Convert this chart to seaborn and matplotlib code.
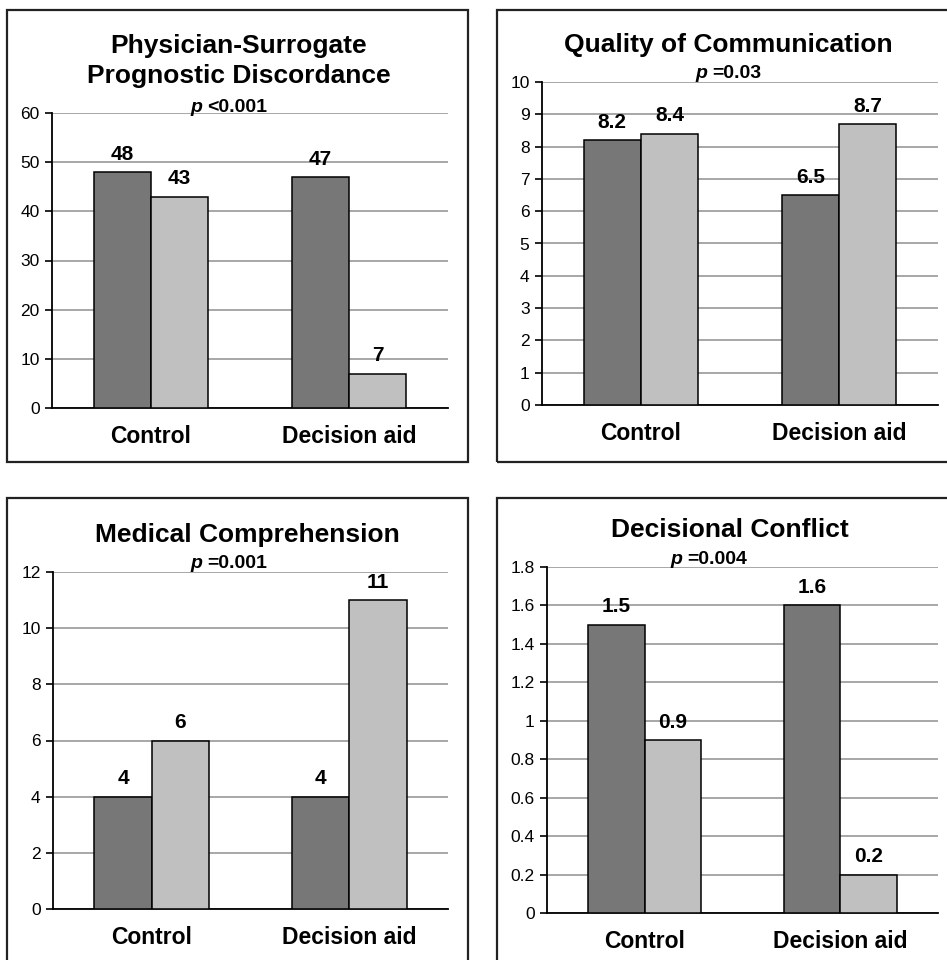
import numpy as np
import pandas as pd
import matplotlib
matplotlib.use('Agg')
import matplotlib.pyplot as plt
from matplotlib.patches import Rectangle
from matplotlib.ticker import FuncFormatter
import seaborn as sns

# %%Data

groups = ['Control', 'Decision aid']
series = ['Series 1', 'Series 2']

discordance_s1 = [48, 47]
discordance_s2 = [43, 7]

communication_s1 = [8.2, 6.5]
communication_s2 = [8.4, 8.7]

comprehension_s1 = [4, 4]
comprehension_s2 = [6, 11]

conflict_s1 = [1.5, 1.6]
conflict_s2 = [0.9, 0.2]

titles = ['Physician-Surrogate\nPrognostic Discordance', 'Quality of Communication',
          'Medical Comprehension', 'Decisional Conflict']
p_texts = ['<0.001', '=0.03', '=0.001', '=0.004']
y_max = [60, 10, 12, 1.8]
y_step = [10, 1, 2, 0.2]

# %%Style

sns.set_style('white')
plt.rcParams['font.family'] = ['Liberation Sans', 'DejaVu Sans']
plt.rcParams['text.color'] = 'black'
plt.rcParams['xtick.color'] = 'black'
plt.rcParams['ytick.color'] = 'black'

dark = '#777777'
light = '#c0c0c0'

W, H = 947, 960
fig = plt.figure(figsize=(W / 100, H / 100), dpi=100)

def fx(px):
    return px / W

def fy(py):
    return 1 - py / H

# pixel boxes: left, right, top, bottom of each axes
axes_px = [(52, 448, 113, 408), (542, 938, 82, 405), (53, 448, 572, 909), (547, 938, 567, 913)]
# frame boxes round each panel
frames_px = [(7, 468, 10, 462), (497, 952, 10, 462), (7, 468, 498, 965), (497, 952, 498, 965)]
# title centre (x, y) and p text start (x, y)
title_px = [(239, 61), (728, 45), (247, 535), (730, 530)]
p_px = [(190, 107), (695, 74), (190, 563), (670, 559)]

panel_data = [(discordance_s1, discordance_s2), (communication_s1, communication_s2),
              (comprehension_s1, comprehension_s2), (conflict_s1, conflict_s2)]

for i in range(4):
    l, r, t, b = axes_px[i]
    ax = fig.add_axes([fx(l), fy(b), (r - l) / W, (b - t) / H])

    s1, s2 = panel_data[i]
    df = pd.DataFrame({'Group': groups * 2,
                       'Value': list(s1) + list(s2),
                       'Series': [series[0]] * 2 + [series[1]] * 2})

    sns.barplot(data=df, x='Group', y='Value', hue='Series', palette=[dark, light],
                width=0.58, edgecolor='black', linewidth=1.1, legend=False, ax=ax,
                zorder=3)

    # value labels
    for cont in ax.containers:
        ax.bar_label(cont, labels=['{:g}'.format(v) for v in cont.datavalues],
                     padding=6, fontsize=15, fontweight='bold', color='black')

    # axes formatting
    ax.set_xlim(-0.5, 1.5)
    ax.set_ylim(0, y_max[i])
    ax.set_yticks(np.arange(0, y_max[i] + y_step[i] / 2, y_step[i]))
    ax.yaxis.set_major_formatter(FuncFormatter(lambda v, pos: '{:g}'.format(round(v, 2))))
    ax.yaxis.grid(True, color='#a0a0a0', lw=1.3, zorder=0)
    ax.set_axisbelow(True)
    ax.set_xticks([0, 1])
    ax.set_xticklabels(groups, fontsize=16.5, fontweight='bold')
    ax.set_xticks([-0.5, 0.5, 1.5], minor=True)
    ax.tick_params(axis='x', which='major', length=0, pad=12)
    ax.tick_params(axis='x', which='minor', length=5, width=1.2, direction='out', color='black')
    ax.tick_params(axis='y', length=5, width=1.2, direction='out', color='black',
                   labelsize=12.5, pad=4, left=True)
    ax.set_xlabel('')
    ax.set_ylabel('')
    sns.despine(ax=ax)
    for sp in ['left', 'bottom']:
        ax.spines[sp].set_color('black')
        ax.spines[sp].set_linewidth(1.3)

    # title and p value
    tx, ty = title_px[i]
    fig.text(fx(tx), fy(ty), titles[i], ha='center', va='center', fontsize=19,
             fontweight='bold', linespacing=1.3)
    px, py = p_px[i]
    p_obj = fig.text(fx(px), fy(py), 'p ', ha='left', va='center', fontsize=14,
                     fontweight='bold', fontstyle='italic')
    ax.annotate(p_texts[i], xy=(1, 0), xycoords=p_obj, ha='left', va='bottom',
                fontsize=14, fontweight='bold', annotation_clip=False)

    # frame
    fl, fr, ft, fb = frames_px[i]
    fig.patches.append(Rectangle((fx(fl), fy(fb)), (fr - fl) / W, (fb - ft) / H,
                                 transform=fig.transFigure, fill=False,
                                 edgecolor='#222222', linewidth=1.6))

plt.savefig('out.png', dpi=100)
